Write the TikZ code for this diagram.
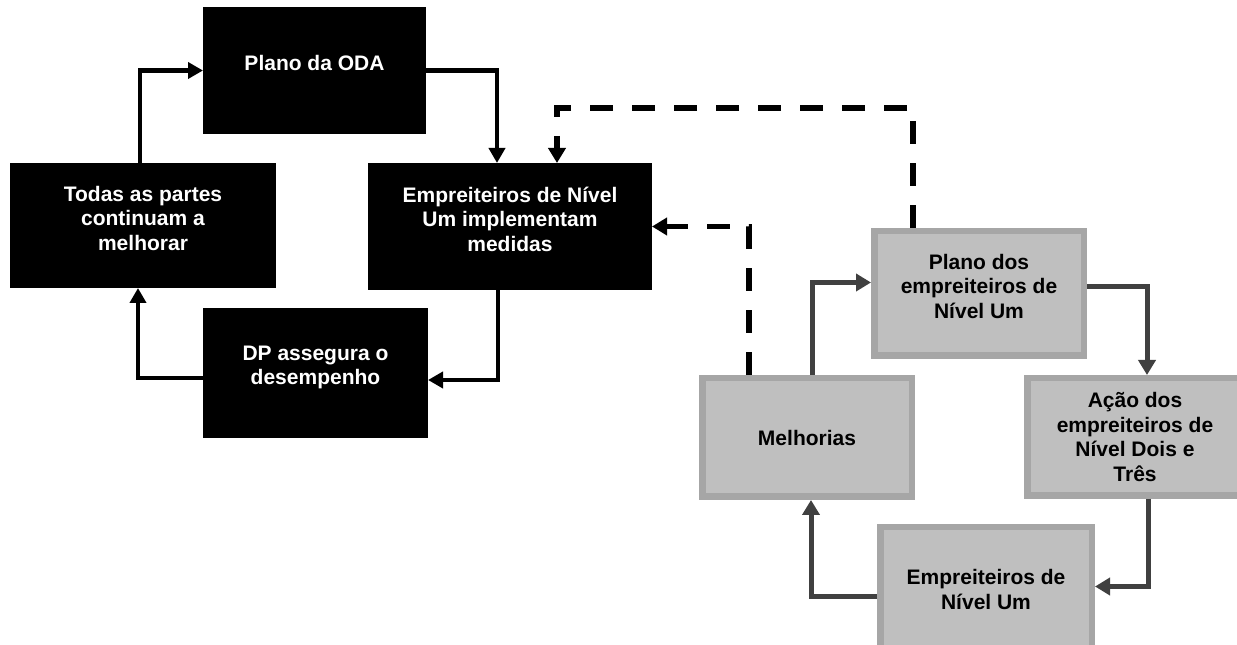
\documentclass[tikz,border=0pt]{standalone}
\usepackage{fontspec}
\setmainfont{Liberation Sans}
\usetikzlibrary{arrows.meta}
\definecolor{boxgrey}{RGB}{191,191,191}
\definecolor{edgegrey}{RGB}{166,166,166}
\definecolor{arrowgrey}{RGB}{64,64,64}
\newcommand{\lowpad}{\rule[-15pt]{0pt}{0pt}}
\begin{document}
\begin{tikzpicture}[x=1pt,y=1pt]
	\tikzstyle{blackbox} = [fill=black, text=white, outer sep=0, inner sep=0, align=center, font=\fontsize{21}{24.5}\selectfont\bfseries]
	\tikzstyle{greybox} = [fill=boxgrey, draw=edgegrey, line width=6.5pt, text=black, inner sep=0, align=center, font=\fontsize{21}{24.5}\selectfont\bfseries]
	\tikzstyle{blackline} = [draw, black, line width=4.5pt, -{Triangle[length=15pt,width=16pt]}]
	\tikzstyle{greyline} = [draw, arrowgrey, line width=5pt, -{Triangle[length=15pt,width=17pt]}]
	\tikzstyle{dashline} = [draw, black, line width=5.5pt, dash pattern=on 23pt off 19pt, -{Triangle[length=15pt,width=17pt]}]
	
	\clip (0,0) rectangle (1237,645);
	\fill[white] (0,0) rectangle (1237,645);
	
	% left cycle, black boxes
	\node [blackbox, minimum width=223, minimum height=127] (oda) at (314.5,574.5) {Plano da ODA\lowpad};
	\node [blackbox, minimum width=266, minimum height=125] (todas) at (143,419.5) {Todas as partes\\continuam a\\melhorar\lowpad};
	\node [blackbox, minimum width=284, minimum height=127] (empr) at (510,418.5) {Empreiteiros de Nível\\Um implementam\\medidas\lowpad};
	\node [blackbox, minimum width=225, minimum height=130] (dp) at (315.5,272) {DP assegura o\\desempenho\lowpad};
	
	% right cycle, grey boxes
	\node [greybox, minimum width=209.5, minimum height=124.5] (planoemp) at (979,351.5) {Plano dos\\empreiteiros de\\Nível Um\lowpad};
	\node [greybox, minimum width=209.5, minimum height=118.5] (melhorias) at (807,207.5) {Melhorias};
	\node [greybox, minimum width=215.5, minimum height=117.5] (acao) at (1135,208) {Ação dos\\empreiteiros de\\Nível Dois e\\Três};
	\node [greybox, minimum width=211.5, minimum height=124.5] (emp1) at (986,55.5) {Empreiteiros de\\Nível Um};
	
	\draw [blackline] ([xshift=-3pt]todas.north) |- (oda.west);
	\draw [blackline] (oda.east) -| ([xshift=-13pt]empr.north);
	\draw [blackline] ([xshift=-12pt]empr.south) |- ([yshift=-7pt]dp.east);
	\draw [blackline] ([yshift=-5pt]dp.west) -| ([xshift=-5pt]todas.south);
	
	\draw [greyline] ([xshift=5pt]melhorias.north) |- ([yshift=11pt]planoemp.west);
	\draw [greyline] ([yshift=7pt]planoemp.east) -| ([xshift=12pt]acao.north);
	\draw [greyline] ([xshift=13pt]acao.south) |- ([yshift=3pt]emp1.east);
	\draw [greyline] ([yshift=-7.5pt]emp1.west) -| ([xshift=4pt]melhorias.south);
	
	%\draw [dashline] (planoemp.north) -- (empr.north);
	\draw [dashline] ([xshift=-66pt]planoemp.north) -- ++(0,120) -| ([xshift=47pt]empr.north);
	\draw [dashline] ([xshift=-58pt]melhorias.north) |- (empr.east);
\end{tikzpicture}
\end{document}
